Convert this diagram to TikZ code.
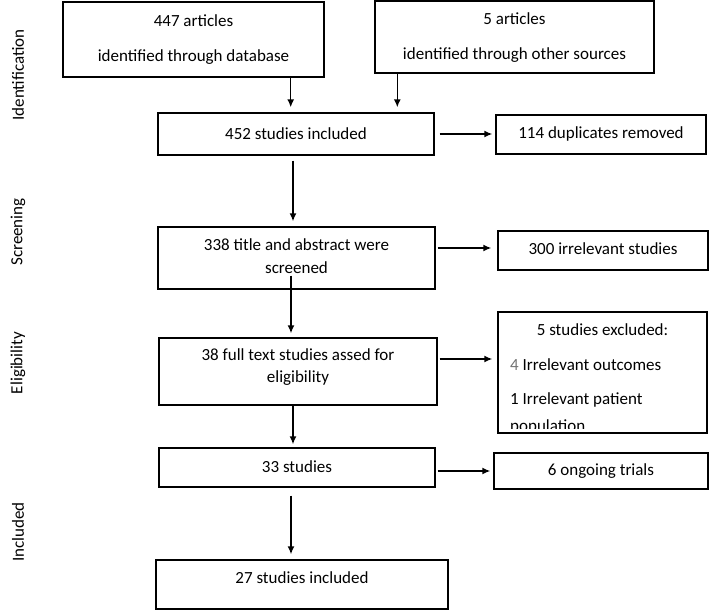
\documentclass[tikz,border=0pt]{standalone}
\usepackage{fontspec}
\setmainfont{Carlito}
\usetikzlibrary{arrows.meta,calc}
\begin{document}
\begin{tikzpicture}[x=1pt,y=-1pt,
  box/.style={draw,line width=1.4pt,inner sep=0pt,rectangle},
  txt/.style={font=\fontsize{17}{20}\selectfont,inner sep=0pt,anchor=center},
  side/.style={font=\fontsize{17}{20}\selectfont,inner sep=0pt,rotate=90},
  arr/.style={line width=1.4pt,-{Latex[length=8pt,width=7pt]}}]
\useasboundingbox (0,0) rectangle (709,610);
% boxes
\node[box,minimum width=261pt,minimum height=75pt] (A) at (193.5,39.5) {};
\node[box,minimum width=279pt,minimum height=72pt] (B) at (514.5,37) {};
\node[box,minimum width=276pt,minimum height=42pt] (C) at (296,134) {};
\node[box,minimum width=210pt,minimum height=39pt] (D) at (601,134.5) {};
\node[box,minimum width=277pt,minimum height=62pt] (E) at (296.5,258) {};
\node[box,minimum width=210pt,minimum height=39pt] (F) at (603,250.5) {};
\node[box,minimum width=278pt,minimum height=67pt] (G) at (298,371.5) {};
\node[box,minimum width=209pt,minimum height=121pt] (H) at (602.5,372.5) {};
\node[box,minimum width=276pt,minimum height=39pt] (I) at (297,467.5) {};
\node[box,minimum width=214pt,minimum height=36pt] (J) at (601,471) {};
\node[box,minimum width=292pt,minimum height=49pt] (K) at (302,584.5) {};
% texts
\node[txt] (tA1) at (193.5,21) {447 articles};
\node[txt] (tA2) at (193.5,57) {identified through database};
\node[txt] (tB1) at (514.5,19) {5 articles};
\node[txt] (tB2) at (514.5,55) {identified through other sources};
\node[txt] (tC) at (296,134) {452 studies included};
\node[txt] (tD) at (601,134) {114 duplicates removed};
\node[txt] (tE1) at (296.5,245) {338 title and abstract were};
\node[txt] (tE2) at (296.5,268) {screened};
\node[txt] (tF) at (603,249) {300 irrelevant studies};
\node[txt] (tG1) at (298,355) {38 full text studies assed for};
\node[txt] (tG2) at (298,378) {eligibility};
\node[txt] (tI) at (297,467) {33 studies};
\node[txt] (tJ) at (601,471) {6 ongoing trials};
\node[txt] (tK) at (302,578) {27 studies included};
\begin{scope}
\clip ([yshift=5pt]H.south west) rectangle (H.north east);
\node[txt] (tH1) at (602.5,330) {5 studies excluded:};
\node[txt,anchor=west] (tH2) at (510,365) {\textcolor{black!55}{4} Irrelevant outcomes};
\node[txt,anchor=west] (tH3) at (510,400) {1 Irrelevant patient};
\node[txt,anchor=west] (tH4) at (510,427) {population};
\end{scope}
% side labels
\node[side] (s1) at (18,75) {Identification};
\node[side] (s2) at (18,232) {Screening};
\node[side] (s3) at (18,363) {Eligibility};
\node[side] (s4) at (18,532) {Included};
% arrows
\draw[arr,shorten >=5pt] ([xshift=-34pt]A.south east) -- ([xshift=-34pt]A.south east |- C.north);
\draw[arr,shorten >=5pt] ([xshift=23pt]B.south west) -- ([xshift=23pt]B.south west |- C.north);
\draw[arr,shorten <=5pt,shorten >=3pt] (C.east) -- (C.east -| D.west);
\draw[arr,shorten <=5pt,shorten >=5pt] ([xshift=-3pt]C.south) -- ([xshift=-3pt]C.south |- E.north);
\draw[arr,shorten <=2pt,shorten >=6pt] ([yshift=10pt]E.east) -- ([yshift=10pt]E.east -| F.west);
\draw[arr,shorten >=4pt] ([xshift=-5.5pt,yshift=14pt]E.south) -- ([xshift=-5.5pt]E.south |- G.north);
\draw[arr,shorten <=2pt,shorten >=5pt] ([yshift=12.5pt]G.east) -- ([yshift=12.5pt]G.east -| H.west);
\draw[arr,shorten >=3pt] ([xshift=-5pt]G.south) -- ([xshift=-5pt]G.south |- I.north);
\draw[arr,shorten <=2pt,shorten >=3pt] ([yshift=-3.5pt]I.east) -- ([yshift=-3.5pt]I.east -| J.west);
\draw[arr,shorten <=8pt,shorten >=5pt] ([xshift=-6pt]I.south) -- ([xshift=-6pt]I.south |- K.north);
\end{tikzpicture}
\end{document}
